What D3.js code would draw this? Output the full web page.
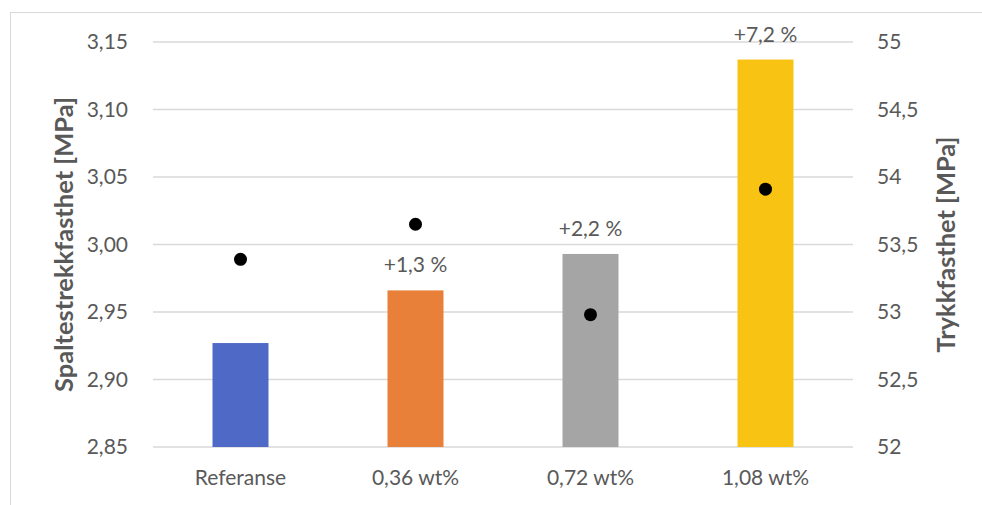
<!DOCTYPE html>
<html>
<head>
<meta charset="utf-8">
<script src="https://cdn.jsdelivr.net/npm/d3@7"></script>
<style>
  html, body { margin: 0; padding: 0; background: #fff; }
  svg { display: block; font-family: Lato, "Open Sans", sans-serif; }
</style>
</head>
<body>
<svg id="chart" width="982" height="505"></svg>
<script>
// Categories (fibre dosage)
const categories = ["Referanse", "0,36 wt%", "0,72 wt%", "1,08 wt%"];
// Splitting tensile strength [MPa] – bars, left axis
const tensile = [2.927, 2.966, 2.993, 3.137];
// Compressive strength [MPa] – points, right axis
const compressive = [53.39, 53.65, 52.98, 53.91];
// Change relative to reference, shown above bars
const changeLabels = ["", "+1,3 %", "+2,2 %", "+7,2 %"];
const barColors = ["#4F6AC6", "#E8803A", "#A5A5A5", "#F8C313"];
// Axis ticks
const leftTicks = [2.85, 2.90, 2.95, 3.00, 3.05, 3.10, 3.15];
const rightTicks = [52, 52.5, 53, 53.5, 54, 54.5, 55];

const svg = d3.select("#chart");
const plot = { left: 153, right: 853, top: 42, bottom: 447 };
const textColor = "#595959";
const comma = v => String(v).replace(".", ",");

// Chart frame
svg.append("rect")
  .attr("x", 10.5).attr("y", 12.5)
  .attr("width", 1000).attr("height", 600)
  .attr("fill", "none").attr("stroke", "#D9D9D9").attr("stroke-width", 1);

const x = d3.scaleBand().domain(categories).range([plot.left, plot.right]).paddingInner(0.68).paddingOuter(0.34);
const yL = d3.scaleLinear().domain([2.85, 3.15]).range([plot.bottom, plot.top]);
const yR = d3.scaleLinear().domain([52, 55]).range([plot.bottom, plot.top]);

// Gridlines
svg.append("g").selectAll("line").data(leftTicks).join("line")
  .attr("x1", plot.left).attr("x2", plot.right)
  .attr("y1", d => yL(d)).attr("y2", d => yL(d))
  .attr("stroke", "#D9D9D9").attr("stroke-width", 1.3);

// Left axis
const leftAxis = svg.append("g").attr("transform", `translate(${plot.left},0)`)
  .call(d3.axisLeft(yL).tickValues(leftTicks).tickSize(0).tickPadding(25)
    .tickFormat(d => d3.format(".2f")(d).replace(".", ",")));
leftAxis.select(".domain").remove();
leftAxis.selectAll("text").attr("fill", textColor).attr("font-size", 21)
  .attr("font-family", "Lato, 'Open Sans', sans-serif");

// Right axis
const rightAxis = svg.append("g").attr("transform", `translate(${plot.right},0)`)
  .call(d3.axisRight(yR).tickValues(rightTicks).tickSize(0).tickPadding(24)
    .tickFormat(d => comma(d)));
rightAxis.select(".domain").remove();
rightAxis.selectAll("text").attr("fill", textColor).attr("font-size", 21)
  .attr("font-family", "Lato, 'Open Sans', sans-serif");

// Bars
svg.append("g").selectAll("rect").data(categories).join("rect")
  .attr("x", d => x(d))
  .attr("width", x.bandwidth())
  .attr("y", (d, i) => yL(tensile[i]))
  .attr("height", (d, i) => yL(2.85) - yL(tensile[i]))
  .attr("fill", (d, i) => barColors[i]);

// Change labels
svg.append("g").selectAll("text").data(categories).join("text")
  .attr("x", d => x(d) + x.bandwidth() / 2)
  .attr("y", (d, i) => yL(tensile[i]) - 18)
  .attr("text-anchor", "middle")
  .attr("font-size", 21).attr("fill", textColor)
  .text((d, i) => changeLabels[i]);

// Compressive strength points
svg.append("g").selectAll("circle").data(categories).join("circle")
  .attr("cx", d => x(d) + x.bandwidth() / 2)
  .attr("cy", (d, i) => yR(compressive[i]))
  .attr("r", 6.5)
  .attr("fill", "#000");

// Category labels
svg.append("g").selectAll("text").data(categories).join("text")
  .attr("x", d => x(d) + x.bandwidth() / 2)
  .attr("y", 485)
  .attr("text-anchor", "middle")
  .attr("font-size", 21).attr("fill", textColor)
  .text(d => d);

// Axis titles, sized to span their intended length along the axis
const midY = (plot.top + plot.bottom) / 2;
function axisTitle(cx, label, span) {
  const t = svg.append("text")
    .attr("transform", `translate(${cx},${midY}) rotate(-90)`)
    .attr("text-anchor", "middle")
    .attr("font-size", 21).attr("font-weight", "bold").attr("fill", textColor)
    .text(label);
  const len = t.node().getComputedTextLength();
  if (len > 0) t.attr("font-size", 21 * span / len);
}
axisTitle(73, "Spaltestrekkfasthet [MPa]", 295);
axisTitle(955, "Trykkfasthet [MPa]", 216);
</script>
</body>
</html>
